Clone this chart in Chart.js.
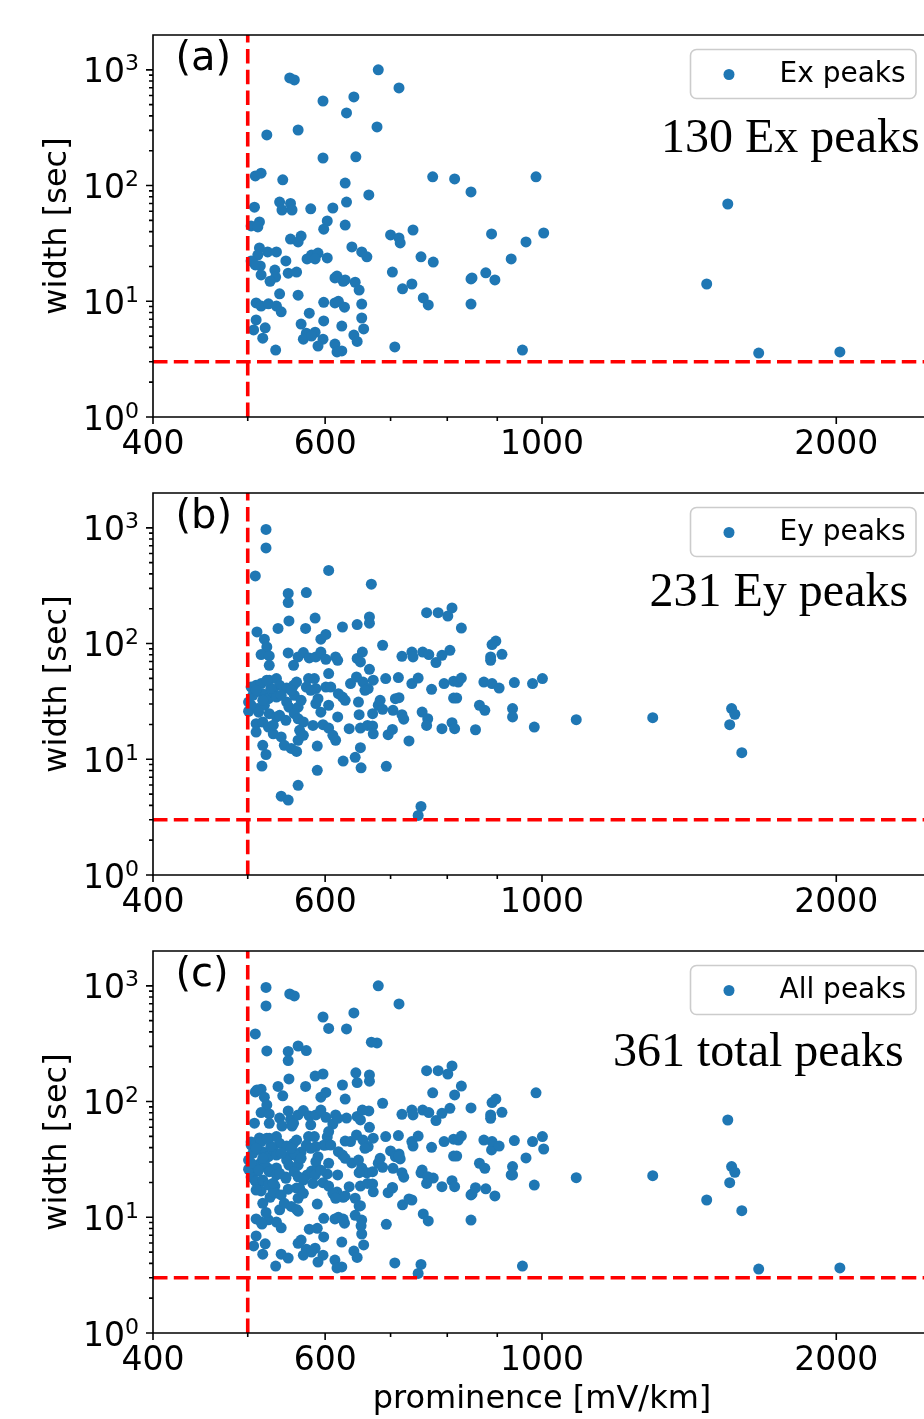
<!DOCTYPE html>
<html><head><meta charset="utf-8">
<script src="https://cdn.jsdelivr.net/npm/chart.js@4.4.1/dist/chart.umd.min.js"></script>
<style>
html,body{margin:0;padding:0;background:#fff;overflow:hidden;width:924px;height:1419px;position:relative;}
.p{position:absolute;left:0;width:931px;}
canvas{display:block;}
</style></head><body>
<div class="p" style="top:0px;height:458px"><canvas id="ca" width="931" height="458" style="width:931px;height:458px"></canvas></div>
<div class="p" style="top:458px;height:458px"><canvas id="cb" width="931" height="458" style="width:931px;height:458px"></canvas></div>
<div class="p" style="top:916px;height:503px"><canvas id="cc" width="931" height="503" style="width:931px;height:503px"></canvas></div>
<script>
// ---------- data ----------
const exProminence = [552,558,597,523,563,597,509,516,543,508,
539,553,542,555,580,611,504,514,512,603,
598,553,567,563,514,524,535,512,504,515,
509,547,516,533,534,527,550,561,575,581,
590,586,603,614,626,539,563,510,516,525,
535,541,598,614,619,628,578,510,521,507,
518,534,567,574,570,586,581,598,597,590,
614,624,624,680,714,642,631,678,645,773,
814,846,986,629,631,665,629,700,714,716,
738,888,1004,963,639,654,662,752,774,930,
617,629,644,650,703,720,736,756,765,846,
848,876,895,846,654,654,642,647,657,617,
707,955,1549,1474,1666,2017];
const exWidth = [851,818,538,274,302,173,121,128,112,65,
72,70,61.5,61.5,63,64,44.8,48.5,43.9,49.4,
42,34.5,36.6,32.6,28.9,26.7,26.7,25.1,22.3,20.2,
20.6,22.3,16.9,18.6,16.2,14.9,17.5,17.9,23.2,25.1,
26.1,23.2,23.7,15.9,14.9,11.6,11.3,9.67,9.1,9.5,
9.1,8.1,9.8,9.67,10,8.9,7.9,6.9,5.9,5.65,
4.8,3.79,6.36,5.3,4.7,5.4,5.0,6.76,4.7,4.1,
4.27,3.72,6.1,1000,698,583,424,321,177,119,
114,88,119,105,72,83,45.6,37.4,35.3,31.9,
41.3,38.2,38.9,32.6,29.5,26.7,24.2,24.2,21.8,23.2,
16.5,15.3,14.6,12.5,17.9,12.8,14.1,10.7,9.3,15.6,
15.9,17.6,15.3,9.45,9.45,7.17,5.1,4.5,5.77,3.65,
4.03,3.79,69.3,14.1,3.57,3.65];

const eyProminence = [522,522,509,605,550,550,574,551,586,511,
537,573,520,523,516,526,526,594,601,550,
557,563,570,578,587,594,601,615,618,625,
504,510,516,526,535,539,501,506,518,525,
531,535,501,512,520,510,518,526,535,539,
548,557,561,548,551,563,558,563,570,558,
577,585,574,587,590,587,601,608,605,618,
605,619,625,510,525,531,518,522,517,541,
545,554,561,565,563,583,597,605,611,615,
589,589,563,541,550,
669,762,783,647,666,666,687,647,655,652,
666,719,736,738,755,766,779,637,646,656,
664,672,692,713,736,747,771,649,650,671,
680,687,708,714,704,719,722,754,764,762,
635,652,663,671,672,696,703,731,790,652,
644,626,653,693,752,747,
809,801,827,897,889,910,886,886,805,790,
794,812,821,827,872,889,904,937,978,1001,
812,818,863,874,933,933,809,814,855,982,
1084,1298,1563,1575,1556,1601,
510,518,528,504,513,523,541,554,567,580,
547,594,629,659,683,531,570];
const eyWidth = [968,671,384,428,271,226,276,157,166,126,
135,135,109,93.5,80.3,78.2,64.9,109,120,83,
64.9,76.6,83.5,75.2,76.6,84.4,73.1,76.6,71.7,139,
42.1,43.6,45.1,48.2,49.8,43.6,31.2,35.7,36.9,33.4,
38.1,34.5,26,27.4,29.3,20.3,21,24.8,23.2,24,
41.2,43.6,46.5,31.2,28.2,28.2,24.8,22.4,21,35.7,
49.8,49.8,42.1,40.8,33.4,30.3,42.1,42.1,29.3,23.2,
55,36.9,34.5,17.2,19,16.6,13.2,11,8.73,15.6,
13.2,12.4,11.7,17.8,14.6,19.6,19.9,18.6,16.1,14.6,
13.0,8.02,5.95,4.8,4.44,
326,185,185,146,170,150,96.7,74.4,84.4,69.4,
59.9,77.6,84.4,76.6,84.4,80.3,68.5,45.1,51.4,46.5,
40.8,48.2,49.8,50.8,45.1,50.3,40.2,31.2,24.3,24.8,
29.3,27,33.4,34.1,26.5,24.3,22.2,25.6,22.4,19.6,
18.4,18.6,19.6,19.4,16.6,16.3,18.1,14.4,18.4,12.6,
10.4,9.64,8.44,8.7,3.91,3.27,
203,173,136,105,98,80.8,76.6,71.7,87.5,79.1,
45.1,47.3,46.5,50.3,46.5,45.1,41.2,46,45.1,49.8,
33.8,33.8,29.3,26.5,27.4,23.2,20.7,18.4,18,19,
22,22.9,27.4,24.5,19.9,11.4,
39.4,32.3,41.1,29.3,25.5,48.2,35.7,39.4,32.3,39.4,
21.7,25.5,32.3,39.4,32.3,19.7,16.1];

const allProminence = exProminence.concat(eyProminence);
const allWidth = exWidth.concat(eyWidth);

const xMajorTicks = [400, 600, 1000, 2000];
const xMinorTicks = [500, 700, 800, 900];
const yMajorTicks = [1, 10, 100, 1000];
const yMinorTicks = [2,3,4,5,6,7,8,9,20,30,40,50,60,70,80,90,200,300,400,500,600,700,800,900];
const promThreshold = 500;
const widthThreshold = 3;
const xMin = 400, xMax = 2500, yMin = 1, yMax = 2000;

// ---------- drawing ----------
const FONT = '"DejaVu Sans"';
const decor = {
  id: 'decor',
  afterDraw(chart, args, o) {
    const ctx = chart.ctx, ca = chart.chartArea;
    const xs = chart.scales.x, ys = chart.scales.y;
    ctx.save();
    // spines
    ctx.strokeStyle = '#000'; ctx.lineWidth = 1.6;
    ctx.beginPath();
    ctx.moveTo(ca.left, ca.top); ctx.lineTo(ca.right, ca.top);
    ctx.moveTo(ca.left, ca.top - 0.8); ctx.lineTo(ca.left, ca.bottom + 0.8);
    ctx.moveTo(ca.left, ca.bottom); ctx.lineTo(ca.right, ca.bottom);
    ctx.moveTo(ca.right, ca.top); ctx.lineTo(ca.right, ca.bottom);
    ctx.stroke();
    // ticks
    ctx.beginPath();
    xMajorTicks.forEach(v => { const p = xs.getPixelForValue(v); ctx.moveTo(p, ca.bottom); ctx.lineTo(p, ca.bottom + 7); });
    xMinorTicks.forEach(v => { const p = xs.getPixelForValue(v); ctx.moveTo(p, ca.bottom); ctx.lineTo(p, ca.bottom + 4); });
    yMajorTicks.forEach(v => { const p = ys.getPixelForValue(v); ctx.moveTo(ca.left, p); ctx.lineTo(ca.left - 7, p); });
    yMinorTicks.forEach(v => { const p = ys.getPixelForValue(v); ctx.moveTo(ca.left, p); ctx.lineTo(ca.left - 4, p); });
    ctx.stroke();
    // y tick labels 10^n
    ctx.fillStyle = '#000';
    yMajorTicks.forEach(v => {
      const p = ys.getPixelForValue(v);
      const e = String(Math.round(Math.log10(v)));
      const right = ca.left - 14;
      ctx.font = '22px ' + FONT;
      const ew = ctx.measureText(e).width;
      ctx.textAlign = 'left'; ctx.textBaseline = 'alphabetic';
      ctx.fillText(e, right - ew, p + 0.5);
      ctx.font = '33px ' + FONT;
      ctx.textAlign = 'right';
      ctx.fillText('10', right - ew, p + 12.5);
    });
    // panel label
    ctx.font = '40px ' + FONT; ctx.textAlign = 'left';
    ctx.fillText(o.panel, 175.5, 69.5);
    // legend box
    const bx = 690.5, by = 49.5, bw = 225.5, bh = 49, r = 6;
    ctx.beginPath();
    ctx.moveTo(bx + r, by); ctx.lineTo(bx + bw - r, by); ctx.arcTo(bx + bw, by, bx + bw, by + r, r);
    ctx.lineTo(bx + bw, by + bh - r); ctx.arcTo(bx + bw, by + bh, bx + bw - r, by + bh, r);
    ctx.lineTo(bx + r, by + bh); ctx.arcTo(bx, by + bh, bx, by + bh - r, r);
    ctx.lineTo(bx, by + r); ctx.arcTo(bx, by, bx + r, by, r); ctx.closePath();
    ctx.fillStyle = 'rgba(255,255,255,0.8)'; ctx.fill();
    ctx.strokeStyle = '#cccccc'; ctx.lineWidth = 1.6; ctx.stroke();
    ctx.beginPath(); ctx.arc(729, 74.5, 5.5, 0, Math.PI * 2);
    ctx.fillStyle = '#1f77b4'; ctx.fill();
    ctx.fillStyle = '#000'; ctx.font = '28px ' + FONT;
    ctx.fillText(chart.data.datasets[2].label, 779.5, 81.5);
    // count annotation
    ctx.font = '48px "Liberation Serif"';
    ctx.fillText(o.note, o.noteX, o.noteY);
    ctx.restore();
  }
};

function makeChart(id, xv, yv, cfg) {
  const pts = xv.map((v, i) => ({x: v, y: yv[i]}));
  const dash = {type: 'line', borderColor: '#ff0000', borderWidth: 3.6, borderDash: [14.5, 6.3],
    pointRadius: 0, fill: false, tension: 0, order: 0};
  return new Chart(document.getElementById(id), {
    type: 'scatter',
    data: {datasets: [
      Object.assign({label: 'prom', data: [{x: promThreshold, y: yMin}, {x: promThreshold, y: yMax}]}, dash),
      Object.assign({label: 'wid', data: [{x: xMin, y: widthThreshold}, {x: xMax, y: widthThreshold}]}, dash),
      {label: cfg.legend, data: pts, backgroundColor: '#1f77b4', borderWidth: 0, pointRadius: 5.5, order: 1}
    ]},
    options: {
      responsive: false, maintainAspectRatio: false, animation: false, events: [],
      layout: {autoPadding: false, padding: {top: 35, right: 0, left: 0, bottom: 0}},
      plugins: {legend: {display: false}, tooltip: {enabled: false},
        decor: {panel: cfg.panel, note: cfg.note, noteX: cfg.noteX, noteY: cfg.noteY}},
      scales: {
        x: {type: 'logarithmic', min: xMin, max: xMax, position: 'bottom',
          afterFit: s => { s.height = cfg.h - 417; },
          afterBuildTicks: s => { s.ticks = xMajorTicks.map(v => ({value: v})); },
          grid: {display: false, drawTicks: false}, border: {display: false},
          ticks: {autoSkip: false, maxRotation: 0, minRotation: 0, padding: 9, color: '#000',
            font: {family: 'DejaVu Sans', size: 33, lineHeight: 1.2}, callback: v => String(v)},
          title: {display: cfg.xTitle, text: 'prominence [mV/km]', color: '#000',
            font: {family: 'DejaVu Sans', size: 32, lineHeight: 1.2}, padding: {top: 0, bottom: 0}}
        },
        y: {type: 'logarithmic', min: yMin, max: yMax, position: 'left',
          afterFit: s => { s.width = 153; },
          grid: {display: false, drawTicks: false}, border: {display: false},
          ticks: {display: false},
          title: {display: true, text: 'width [sec]', color: '#000',
            font: {family: 'DejaVu Sans', size: 32, lineHeight: 1.2}, padding: {top: 38, bottom: 0}}
        }
      }
    },
    plugins: [decor]
  });
}

makeChart('ca', exProminence, exWidth, {h: 458, panel: '(a)', legend: 'Ex peaks', note: '130 Ex peaks', noteX: 661, noteY: 152, xTitle: false});
makeChart('cb', eyProminence, eyWidth, {h: 458, panel: '(b)', legend: 'Ey peaks', note: '231 Ey peaks', noteX: 649.5, noteY: 148, xTitle: false});
makeChart('cc', allProminence, allWidth, {h: 503, panel: '(c)', legend: 'All peaks', note: '361 total peaks', noteX: 613, noteY: 150, xTitle: true});
</script>
</body></html>
